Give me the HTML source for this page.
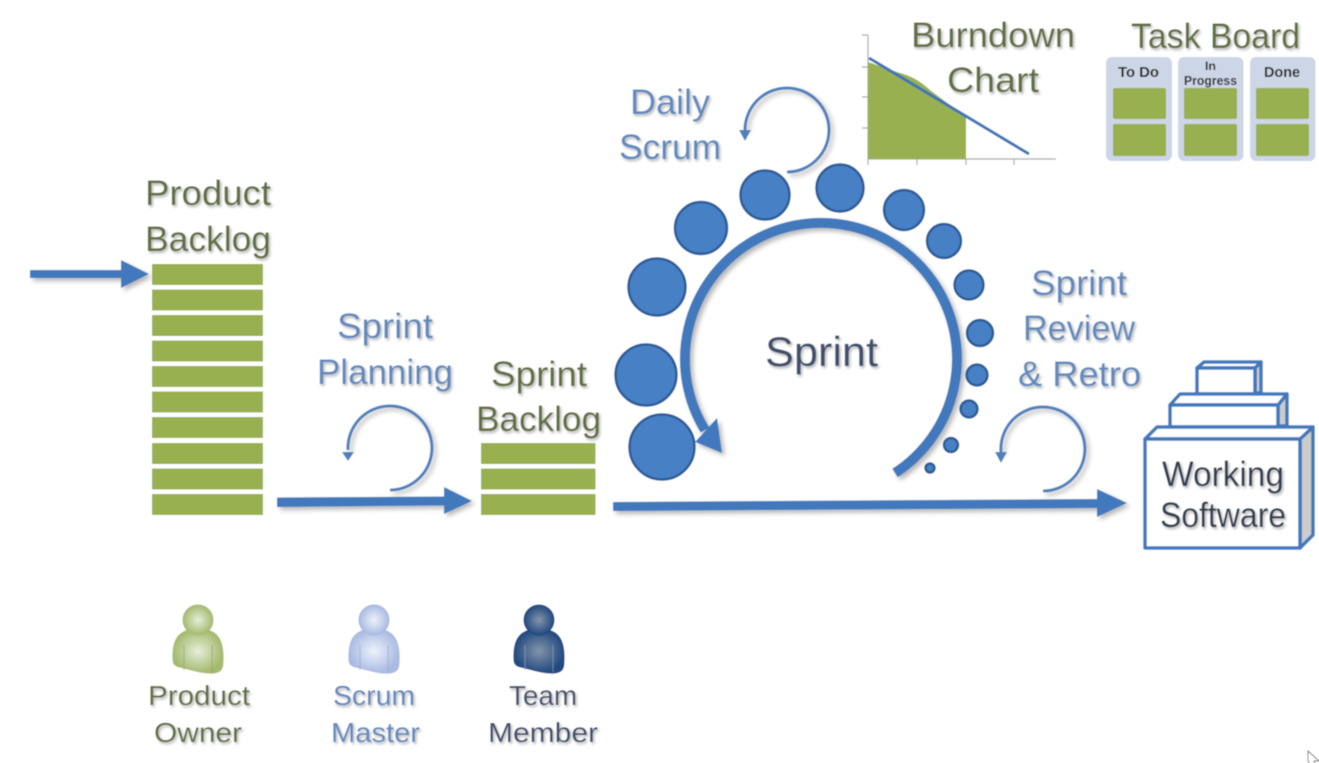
<!DOCTYPE html>
<html><head><meta charset="utf-8"><style>
html,body{margin:0;padding:0;background:#fff;width:1319px;height:763px;overflow:hidden}
svg{display:block}
text{font-family:"Liberation Sans",sans-serif}
.o{fill:#616e42;font-size:35px;filter:url(#ts)}
.b{fill:#6189bd;font-size:35px;filter:url(#ts)}
.d{fill:#414f6c;font-size:35px;filter:url(#ts)}
.s{font-size:28px}
.k{fill:#222;font-weight:bold;font-size:15px}
</style></head><body>
<svg width="1319" height="763" viewBox="0 0 1319 763" xmlns="http://www.w3.org/2000/svg">
<defs>
<filter id="all" x="0" y="0" width="100%" height="100%"><feGaussianBlur stdDeviation="0.55"/></filter>
<filter id="ts" x="-10%" y="-20%" width="125%" height="150%"><feDropShadow dx="1.500" dy="2" stdDeviation="1.200" flood-color="#000" flood-opacity=".28"/></filter>
<filter id="sh" x="-20%" y="-20%" width="150%" height="150%"><feDropShadow dx="3" dy="3" stdDeviation="2.500" flood-color="#000" flood-opacity=".28"/></filter>
<radialGradient id="g1"><stop offset="0" stop-color="#e6eeda"/><stop offset="1" stop-color="#a4ba6e"/></radialGradient>
<radialGradient id="g2"><stop offset="0" stop-color="#eef1fb"/><stop offset="1" stop-color="#a9bbe2"/></radialGradient>
<radialGradient id="g3"><stop offset="0" stop-color="#8494ab"/><stop offset="1" stop-color="#224a80"/></radialGradient>
<g id="person">
<path d="M-25 40 C-26 20 -20 9 0 9 C20 9 26 20 25 42 C25 50 22 52 16 53 C6 54 -6 50 -14 48 C-20 47 -25 46 -25 40Z"/>
<circle cx="0" cy="0" r="15"/>
</g>
</defs>
<g filter="url(#all)">
<rect width="1319" height="763" fill="#fff"/>

<!-- Product backlog -->
<g fill="#98b04f">
<rect x="152" y="264" width="111" height="21"/><rect x="152" y="289.500" width="111" height="21"/><rect x="152" y="315" width="111" height="21"/><rect x="152" y="340.500" width="111" height="21"/><rect x="152" y="366" width="111" height="21"/><rect x="152" y="391.500" width="111" height="21"/><rect x="152" y="417" width="111" height="21"/><rect x="152" y="443" width="111" height="21"/><rect x="152" y="468.500" width="111" height="21"/><rect x="152" y="494" width="111" height="21"/>
<rect x="481" y="443" width="114.500" height="21"/><rect x="481" y="468.500" width="114.500" height="21"/><rect x="481" y="494" width="114.500" height="21"/>
</g>

<!-- straight arrows -->
<g fill="#4279bd" filter="url(#sh)">
<polygon points="30,270 121,270 121,260 149,274 121,288 121,278 30,278"/>
<polygon points="277,497.500 444,496.500 444,487 472,501 444,514 444,505.500 277,507"/>
<polygon points="613,502 1097,499 1097,489 1127,503 1097,517 1097,508 613,511"/>
</g>

<!-- loops -->
<g fill="none" stroke="#4f80bb" stroke-width="3" filter="url(#sh)">
<path d="M390 490 A42 42 0 1 0 348 450"/>
<path d="M787 172 A42 42 0 1 0 745 130"/>
<path d="M1043 491 A42 42 0 1 0 1001 452"/>
</g>
<g fill="#4f80bb">
<polygon points="342,452 354,452 348,461"/>
<polygon points="739,130 751,130 745,141"/>
<polygon points="995,452 1007,452 1001,463"/>
</g>

<!-- big arc -->
<g filter="url(#sh)">
<path d="M895 473 A136 136 0 1 0 705 430" fill="none" stroke="#4279bd" stroke-width="10"/>
<polygon points="717,418 695,442 722,453" fill="#4279bd"/>
</g>

<!-- circles -->
<g fill="#4680c4" stroke="#2a5b98" stroke-width="2.500">
<circle cx="662" cy="447" r="32.500"/><circle cx="646" cy="375" r="30.500"/><circle cx="657" cy="287" r="28.500"/><circle cx="701" cy="228" r="26"/><circle cx="765" cy="195" r="24.500"/><circle cx="840" cy="188" r="23.500"/><circle cx="904" cy="210" r="20"/><circle cx="944" cy="241" r="17"/><circle cx="969" cy="285" r="14.500"/><circle cx="980" cy="333" r="13"/><circle cx="977" cy="375" r="10.500"/><circle cx="969" cy="409" r="8.500"/><circle cx="951" cy="445" r="7"/><circle cx="930" cy="468" r="4.500"/>
</g>

<!-- burndown -->
<g stroke="#aaa" stroke-width="1.200" fill="none">
<path d="M868 35V159H1056"/>
<path d="M862 35H868M862 67H868M862 97H868M862 128H868M868 159V165M917 159V165M966 159V165M1014 159V165"/>
</g>
<path d="M868 62 L900 73 Q916 77 930 90 L966 117 V159 H868Z" fill="#98b04f"/>
<line x1="869" y1="58" x2="1029" y2="154" stroke="#3f74b5" stroke-width="3"/>

<!-- task board -->
<g fill="#cdd6e6">
<rect x="1106" y="57" width="66" height="104" rx="6"/><rect x="1178" y="57" width="65.500" height="104" rx="6"/><rect x="1250" y="57" width="65.500" height="104" rx="6"/>
</g>
<g fill="#98b04f">
<rect x="1113" y="88" width="53" height="31" rx="2"/><rect x="1113" y="124" width="53" height="32" rx="2"/>
<rect x="1184" y="88" width="53" height="31" rx="2"/><rect x="1184" y="124" width="53" height="32" rx="2"/>
<rect x="1256" y="88" width="53" height="31" rx="2"/><rect x="1256" y="124" width="53" height="32" rx="2"/>
</g>
<text class="k" x="1118" y="77" textLength="41" lengthAdjust="spacingAndGlyphs">To Do</text>
<text class="k" x="1205" y="70" textLength="11" lengthAdjust="spacingAndGlyphs" style="font-size:12px">In</text>
<text class="k" x="1184" y="85" textLength="53" lengthAdjust="spacingAndGlyphs" style="font-size:13px">Progress</text>
<text class="k" x="1264" y="77" textLength="36" lengthAdjust="spacingAndGlyphs">Done</text>

<!-- working software -->
<g stroke="#4279bd" stroke-width="3.500" stroke-linejoin="round">
<polygon points="1255,368 1261,362 1261,393 1255,393" fill="#ccc"/>
<polygon points="1197,368 1204,362 1261,362 1255,368" fill="#fff"/>
<rect x="1197" y="368" width="58" height="26" fill="#fff"/>
<polygon points="1278,405 1287,394 1287,426 1278,426" fill="#ccc"/>
<polygon points="1170,405 1180,394 1287,394 1278,405" fill="#fff"/>
<rect x="1170" y="405" width="108" height="22" fill="#fff"/>
<polygon points="1300,439 1313,427 1313,535 1300,548" fill="#ccc"/>
<polygon points="1145,439 1157,427 1313,427 1300,439" fill="#fff"/>
<rect x="1145" y="439" width="155" height="109" fill="#fff"/>
</g>

<!-- persons -->
<use href="#person" x="198" y="620" fill="url(#g1)" stroke="#a9bd78"/>
<use href="#person" x="374" y="620" fill="url(#g2)" stroke="#a9b9e0"/>
<use href="#person" x="539" y="620" fill="url(#g3)" stroke="#234a80"/>
<g fill="none" stroke-width="1.200" opacity=".55">
<path d="M184 670 V645 M212 672 V645" stroke="#8fa06a"/>
<path d="M360 670 V645 M388 672 V645" stroke="#93a5d2"/>
<path d="M525 670 V645 M553 672 V645" stroke="#9aa6b8"/>
</g>

<!-- labels -->
<text class="o" x="145" y="205" textLength="126" lengthAdjust="spacingAndGlyphs">Product</text>
<text class="o" x="145" y="251" textLength="126" lengthAdjust="spacingAndGlyphs">Backlog</text>
<text class="b" x="337" y="338" textLength="96" lengthAdjust="spacingAndGlyphs">Sprint</text>
<text class="b" x="317" y="384" textLength="136" lengthAdjust="spacingAndGlyphs">Planning</text>
<text class="o" x="491" y="386" textLength="96" lengthAdjust="spacingAndGlyphs">Sprint</text>
<text class="o" x="476" y="431" textLength="125" lengthAdjust="spacingAndGlyphs">Backlog</text>
<text class="b" x="630" y="114" textLength="80" lengthAdjust="spacingAndGlyphs">Daily</text>
<text class="b" x="619" y="159" textLength="102" lengthAdjust="spacingAndGlyphs">Scrum</text>
<text class="o" x="911" y="47" textLength="164" lengthAdjust="spacingAndGlyphs">Burndown</text>
<text class="o" x="947" y="92" textLength="92" lengthAdjust="spacingAndGlyphs">Chart</text>
<text class="o" x="1131" y="48" textLength="169" lengthAdjust="spacingAndGlyphs">Task Board</text>
<text class="d" x="765" y="366" textLength="113" lengthAdjust="spacingAndGlyphs" style="font-size:42px">Sprint</text>
<text class="b" x="1031" y="295" textLength="96" lengthAdjust="spacingAndGlyphs">Sprint</text>
<text class="b" x="1023" y="340" textLength="112" lengthAdjust="spacingAndGlyphs">Review</text>
<text class="b" x="1018" y="386" textLength="123" lengthAdjust="spacingAndGlyphs">&amp; Retro</text>
<text class="d" x="1162" y="486" textLength="122" lengthAdjust="spacingAndGlyphs" style="fill:#333e50">Working</text>
<text class="d" x="1160" y="527" textLength="126" lengthAdjust="spacingAndGlyphs" style="fill:#333e50">Software</text>
<text class="o s" x="148" y="705" textLength="102" lengthAdjust="spacingAndGlyphs">Product</text>
<text class="o s" x="154" y="742" textLength="88" lengthAdjust="spacingAndGlyphs">Owner</text>
<text class="b s" x="333" y="705" textLength="82" lengthAdjust="spacingAndGlyphs">Scrum</text>
<text class="b s" x="331" y="742" textLength="89" lengthAdjust="spacingAndGlyphs">Master</text>
<text class="d s" x="509" y="705" textLength="68" lengthAdjust="spacingAndGlyphs">Team</text>
<text class="d s" x="488" y="742" textLength="110" lengthAdjust="spacingAndGlyphs">Member</text>

<!-- cursor -->
<path d="M1308 751 L1319 761 L1314 761 L1316 766 L1311 766 L1308 761Z" fill="#fff" stroke="#777" stroke-width="1"/>
</g>
</svg>
</body></html>
